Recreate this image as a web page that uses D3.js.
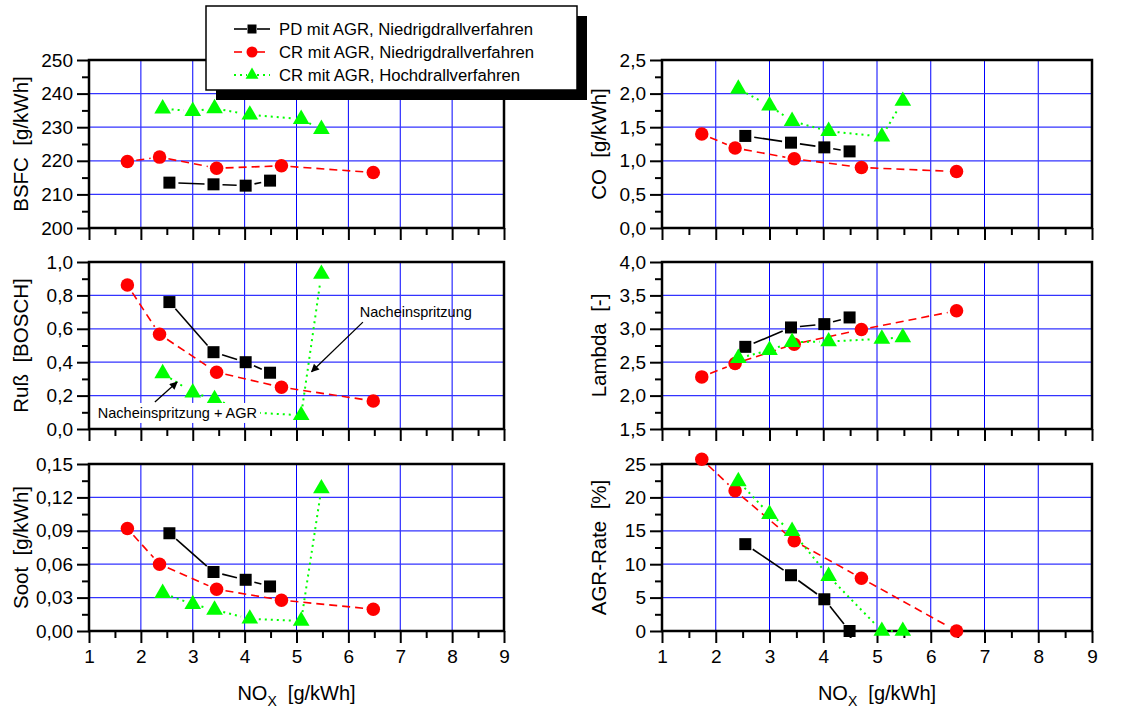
<!DOCTYPE html>
<html>
<head>
<meta charset="utf-8">
<script src="https://cdn.jsdelivr.net/npm/d3@7"></script>
<style>
  body { margin: 0; background: #fff; }
  svg { display: block; font-family: "Liberation Sans", Arial, sans-serif; }
</style>
</head>
<body>
<svg width="1139" height="711"></svg>
<script>
// NOx values of every series (x axis, g/kWh)
const noxPD  = [2.55, 3.40, 4.02, 4.49];
const noxCRN = [1.74, 2.36, 3.46, 4.71, 6.48];
const noxCRH = [2.42, 3.00, 3.42, 4.10, 5.09, 5.48];

// BSFC [g/kWh]
const bsfcPD  = [213.5, 213.0, 212.6, 214.1];
const bsfcCRN = [219.8, 221.1, 217.8, 218.5, 216.5];
const bsfcCRH = [235.5, 234.8, 235.6, 233.7, 232.4, 229.4];
// CO [g/kWh]
const coPD  = [1.37, 1.27, 1.20, 1.14];
const coCRN = [1.40, 1.19, 1.03, 0.90, 0.84];
const coCRH = [2.07, 1.82, 1.59, 1.44, 1.36, 1.89];
// Russ [BOSCH]
const russPD  = [0.76, 0.46, 0.40, 0.337];
const russCRN = [0.862, 0.567, 0.34, 0.25, 0.168];
const russCRH = [0.333, 0.218, 0.178, 0.10, 0.082, 0.928];
// Soot [g/kWh]
const sootPD  = [0.0878, 0.053, 0.046, 0.040];
const sootCRN = [0.092, 0.060, 0.0375, 0.0277, 0.0196];
const sootCRH = [0.034, 0.024, 0.019, 0.011, 0.009, 0.128];
// Lambda [-]
const lambdaPD  = [2.73, 3.02, 3.07, 3.17];
const lambdaCRN = [2.28, 2.48, 2.77, 2.99, 3.27];
const lambdaCRH = [2.56, 2.68, 2.80, 2.81, 2.85, 2.87];
// AGR-Rate [%]
const agrPD  = [13.0, 8.35, 4.75, 0];
const agrCRN = [25.7, 21.0, 13.5, 7.9, 0];
const agrCRH = [22.4, 17.5, 14.95, 8.2, 0, 0];

const legendLabels = ["PD mit AGR, Niedrigdrallverfahren",
                      "CR mit AGR, Niedrigdrallverfahren",
                      "CR mit AGR, Hochdrallverfahren"];
const xTicks = [1, 2, 3, 4, 5, 6, 7, 8, 9];
const xTitle = "NO";

// annotations in the Russ panel (data coordinates)
const notes = [
  {text: "Nacheinspritzung + AGR", x: 1.17, y: 0.096, box: true},
  {text: "Nacheinspritzung", x: 6.22, y: 0.70, box: false}
];
const arrows = [
  {x1: 2.27, y1: 0.162, x2: 2.70, y2: 0.281},
  {x1: 6.28, y1: 0.64,  x2: 5.29, y2: 0.343}
];

const series = [
  {xs: noxPD,  color: "#000000", dash: null,  width: 1.6, marker: "square"},
  {xs: noxCRN, color: "#ff0000", dash: "8,5", width: 1.6, marker: "circle"},
  {xs: noxCRH, color: "#00ff00", dash: "2,4", width: 2,   marker: "triangle"}
];

const panels = [
  {col: 0, row: 0, title: "BSFC  [g/kWh]", dom: [200, 250], step: 10, dec: 0, vals: [bsfcPD, bsfcCRN, bsfcCRH]},
  {col: 0, row: 1, title: "Ruß  [BOSCH]",  dom: [0, 1],     step: 0.2, dec: 1, vals: [russPD, russCRN, russCRH]},
  {col: 0, row: 2, title: "Soot  [g/kWh]", dom: [0, 0.15],  step: 0.03, dec: 2, vals: [sootPD, sootCRN, sootCRH]},
  {col: 1, row: 0, title: "CO  [g/kWh]",   dom: [0, 2.5],   step: 0.5, dec: 1, vals: [coPD, coCRN, coCRH]},
  {col: 1, row: 1, title: "Lambda  [-]",   dom: [1.5, 4],   step: 0.5, dec: 1, vals: [lambdaPD, lambdaCRN, lambdaCRH]},
  {col: 1, row: 2, title: "AGR-Rate  [%]", dom: [0, 25],    step: 5,   dec: 0, vals: [agrPD, agrCRN, agrCRH]}
];

const cols = [{x0: 89, x1: 504, tx: 20}, {x0: 662, x1: 1092, tx: 598}];
const rows = [{y0: 60, y1: 228}, {y0: 262, y1: 429}, {y0: 464, y1: 631}];

const locale = d3.formatLocale({decimal: ",", thousands: ".", grouping: [3], currency: ["", "€"]});
const svg = d3.select("svg");

function markerPath(g, type, cx, cy, s) {
  if (type === "square") {
    g.append("rect").attr("x", cx - s / 2).attr("y", cy - s / 2)
      .attr("width", s).attr("height", s).attr("fill", "#000");
  } else if (type === "circle") {
    g.append("circle").attr("cx", cx).attr("cy", cy).attr("r", s / 2).attr("fill", "#ff0000");
  } else {
    g.append("path").attr("transform", `translate(${cx},${cy})`)
      .attr("d", d3.symbol(d3.symbolTriangle, s * s * 0.5)()).attr("fill", "#00ff00");
  }
}

// line segments leave a small gap around each marker
function gappedLine(g, pts, s, gap) {
  for (let i = 0; i < pts.length - 1; i++) {
    const [ax, ay] = pts[i], [bx, by] = pts[i + 1];
    const len = Math.hypot(bx - ax, by - ay);
    if (len <= 2 * gap) continue;
    const ux = (bx - ax) / len, uy = (by - ay) / len;
    g.append("line")
      .attr("x1", ax + ux * gap).attr("y1", ay + uy * gap)
      .attr("x2", bx - ux * gap).attr("y2", by - uy * gap)
      .attr("stroke", s.color).attr("stroke-width", s.width)
      .attr("stroke-dasharray", s.dash);
  }
}

const sizes = {square: 12, circle: 13.5, triangle: 15.5};

panels.forEach(p => {
  const c = cols[p.col], r = rows[p.row];
  const x = d3.scaleLinear().domain([1, 9]).range([c.x0, c.x1]);
  const y = d3.scaleLinear().domain(p.dom).range([r.y1, r.y0]);
  const g = svg.append("g");
  const n = Math.round((p.dom[1] - p.dom[0]) / p.step);
  const major = d3.range(n + 1).map(i => p.dom[0] + i * p.step);
  const minor = d3.range(n).map(i => p.dom[0] + (i + 0.5) * p.step);
  const fmt = locale.format(`.${p.dec}f`);

  // grid
  g.selectAll(".vg").data(xTicks.slice(1, -1)).enter().append("line")
    .attr("x1", d => x(d)).attr("x2", d => x(d)).attr("y1", r.y0).attr("y2", r.y1)
    .attr("stroke", "#0000ff").attr("stroke-width", 1);
  g.selectAll(".hg").data(major.slice(1, -1)).enter().append("line")
    .attr("x1", c.x0).attr("x2", c.x1).attr("y1", d => y(d)).attr("y2", d => y(d))
    .attr("stroke", "#3333ff").attr("stroke-width", 1.3);

  // axes
  const ya = g.append("g").attr("transform", `translate(${c.x0},0)`)
    .call(d3.axisLeft(y).tickValues(major).tickSize(12).tickPadding(4).tickFormat(fmt));
  const ym = g.append("g").attr("transform", `translate(${c.x0},0)`)
    .call(d3.axisLeft(y).tickValues(minor).tickSize(7).tickFormat(""));
  const xa = g.append("g").attr("transform", `translate(0,${r.y1})`)
    .call(d3.axisBottom(x).tickValues(xTicks).tickSize(12).tickPadding(7)
      .tickFormat(p.row === 2 ? d3.format("d") : ""));
  const xm = g.append("g").attr("transform", `translate(0,${r.y1})`)
    .call(d3.axisBottom(x).tickValues(xTicks.slice(0, -1).map(d => d + 0.5)).tickSize(7).tickFormat(""));
  [ya, ym, xa, xm].forEach(a => {
    a.select(".domain").remove();
    a.selectAll("line").attr("stroke", "#000").attr("stroke-width", 2);
    a.selectAll("text").attr("fill", "#000").style("font-size", "19px")
      .style("font-family", "'Liberation Sans', Arial, sans-serif");
  });

  g.append("rect").attr("x", c.x0).attr("y", r.y0)
    .attr("width", c.x1 - c.x0).attr("height", r.y1 - r.y0)
    .attr("fill", "none").attr("stroke", "#000").attr("stroke-width", 2.5);

  // y title
  g.append("text").attr("transform", `translate(${c.tx},${(r.y0 + r.y1) / 2}) rotate(-90)`)
    .attr("text-anchor", "middle").attr("dominant-baseline", "central")
    .style("font-size", "20.5px").style("white-space", "pre").text(p.title);

  // x title
  if (p.row === 2) {
    const t = g.append("text").attr("x", (c.x0 + c.x1) / 2).attr("y", 700)
      .attr("text-anchor", "middle").style("font-size", "20px").style("white-space", "pre");
    t.append("tspan").text(xTitle);
    t.append("tspan").attr("dy", 6).style("font-size", "14px").text("X");
    t.append("tspan").attr("dy", -6).text("  [g/kWh]");
  }

  // data
  const dg = g.append("g");
  series.forEach((s, k) => {
    const pts = s.xs.map((v, i) => [x(v), y(p.vals[k][i])]);
    gappedLine(dg, pts, s, 9);
  });
  series.forEach((s, k) => {
    s.xs.forEach((v, i) => markerPath(dg, s.marker, x(v), y(p.vals[k][i]), sizes[s.marker]));
  });

  // annotations only in the Russ panel; the lower label sits on a white box
  if (p.col === 0 && p.row === 1) {
    const ag = g.append("g");
    const defs = svg.append("defs");
    defs.append("marker").attr("id", "ah").attr("viewBox", "0 0 10 10")
      .attr("refX", 9).attr("refY", 5).attr("markerWidth", 10).attr("markerHeight", 8)
      .attr("markerUnits", "userSpaceOnUse").attr("orient", "auto")
      .append("path").attr("d", "M0,0L10,5L0,10z").attr("fill", "#000");
    arrows.forEach(a => {
      ag.append("line").attr("x1", x(a.x1)).attr("y1", y(a.y1))
        .attr("x2", x(a.x2)).attr("y2", y(a.y2))
        .attr("stroke", "#000").attr("stroke-width", 1.3).attr("marker-end", "url(#ah)");
    });
    notes.forEach(nt => {
      const t = ag.append("text").attr("x", x(nt.x)).attr("y", y(nt.y))
        .attr("dominant-baseline", "central").style("font-size", "14.5px").text(nt.text);
      if (nt.box) {
        const b = t.node().getBBox();
        ag.insert("rect", "text").attr("x", b.x - 3).attr("y", b.y - 2)
          .attr("width", b.width + 6).attr("height", b.height + 4).attr("fill", "#fff");
      }
    });
  }
});

// legend with drop shadow
const lg = svg.append("g");
const lx = 206, ly = 6, lw = 371, lh = 84;
lg.append("rect").attr("x", lx + 10).attr("y", ly + 10).attr("width", lw).attr("height", lh).attr("fill", "#000");
lg.append("rect").attr("x", lx).attr("y", ly).attr("width", lw).attr("height", lh)
  .attr("fill", "#fff").attr("stroke", "#000").attr("stroke-width", 1.5);
const legendSizes = {square: 9, circle: 11, triangle: 12};
series.forEach((s, i) => {
  const yy = ly + 23 + i * 23;
  gappedLine(lg, [[229, yy], [252, yy]], s, 5);
  gappedLine(lg, [[252, yy], [275, yy]], s, 5);
  markerPath(lg, s.marker, 252, yy, legendSizes[s.marker]);
  lg.append("text").attr("x", 279).attr("y", yy).attr("dominant-baseline", "central")
    .style("font-size", "16.7px").text(legendLabels[i]);
});
</script>
</body>
</html>
